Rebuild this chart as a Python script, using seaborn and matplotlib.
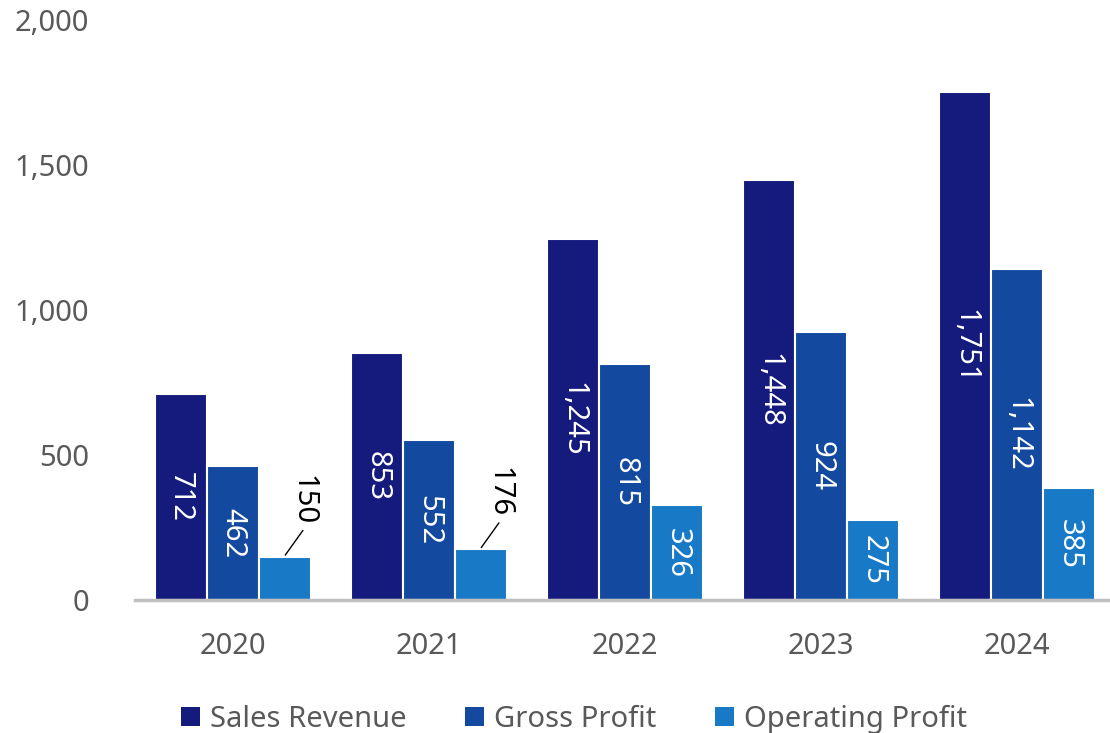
import numpy as np
import pandas as pd
import matplotlib
matplotlib.use("Agg")
import matplotlib.pyplot as plt
import seaborn as sns

years = ["2020", "2021", "2022", "2023", "2024"]
sales_revenue = [712, 853, 1245, 1448, 1751]
gross_profit = [462, 552, 815, 924, 1142]
operating_profit = [150, 176, 326, 275, 385]
series_names = ["Sales Revenue", "Gross Profit", "Operating Profit"]
series_colors = ["#141b7d", "#134a9f", "#1879c6"]

df = pd.DataFrame({
    "year": years * 3,
    "value": sales_revenue + gross_profit + operating_profit,
    "series": np.repeat(series_names, len(years)),
})

sns.set_style("white")
plt.rcParams["font.family"] = ["Noto Sans", "DejaVu Sans"]

fig = plt.figure(figsize=(11.1, 7.33), dpi=100)
ax = fig.add_axes([0.1216, 0.1814, 0.8784, 0.7913])

sns.barplot(data=df, x="year", y="value", hue="series", palette=series_colors,
            saturation=1, width=0.8, gap=0, edgecolor="white", linewidth=1.5, ax=ax)

ax.set_ylim(0, 2000)
ax.set_xlim(-0.5, 4.474)
ax.set_yticks([0, 500, 1000, 1500, 2000])
ax.set_yticklabels(["0", "500", "1,000", "1,500", "2,000"])
ax.tick_params(axis="both", length=0, labelsize=21, colors="#595959")
ax.tick_params(axis="x", pad=23)
ax.tick_params(axis="y", pad=33)
ax.set_xlabel("")
ax.set_ylabel("")
for side in ["top", "right", "left"]:
    ax.spines[side].set_visible(False)
ax.spines["bottom"].set_color("#bfbfbf")
ax.spines["bottom"].set_linewidth(2.5)

# value labels, rotated and centred in the bar; short bars get a leader line
for container in ax.containers:
    for bar in container:
        h = bar.get_height()
        cx = bar.get_x() + bar.get_width() / 2
        txt = f"{h:,.0f}"
        if h < 200:
            ax.plot([cx, cx + 0.09], [h + 5, h + 90], color="black", lw=1)
            ax.text(cx + 0.09, h + 110, txt, rotation=-90, ha="center", va="bottom",
                    fontsize=21, color="black")
        else:
            ax.text(cx, h / 2, txt, rotation=-90, ha="center", va="center",
                    fontsize=21, color="white")

leg = ax.legend(loc="upper center", bbox_to_anchor=(0.45, -0.135), ncol=3,
                frameon=False, fontsize=21, handlelength=0.65, handleheight=0.65,
                handletextpad=0.35, columnspacing=2.0, labelcolor="#595959")
for h in leg.legend_handles:
    h.set_edgecolor("none")

fig.savefig("out.png", dpi=100)
